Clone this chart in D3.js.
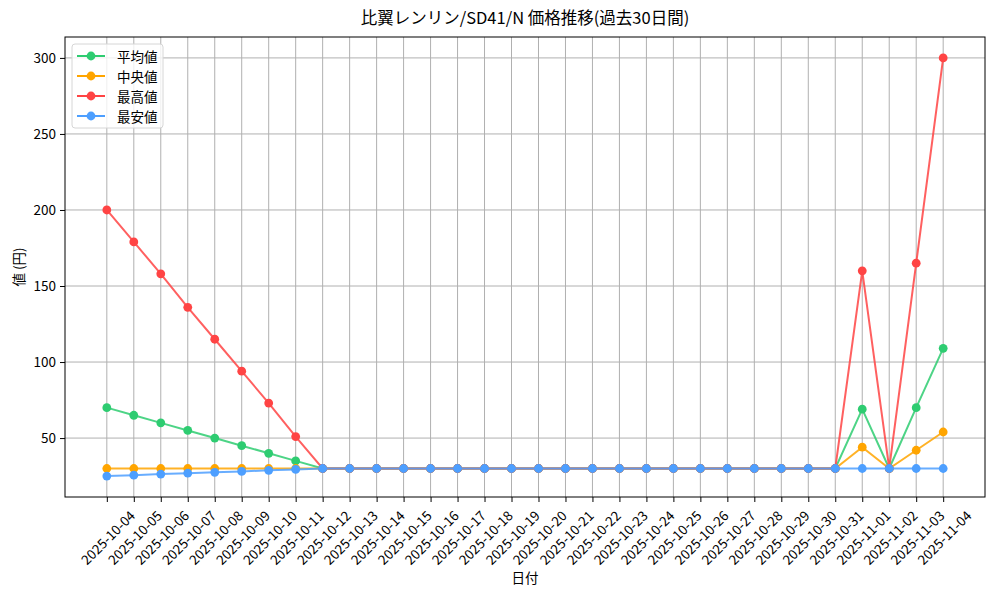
<!DOCTYPE html>
<html>
<head>
<meta charset="utf-8">
<script src="https://cdn.jsdelivr.net/npm/d3@7"></script>
<style>
  body { margin: 0; background: #fff; }
  text { font-family: "Noto Sans CJK JP", "DejaVu Sans", sans-serif; }
</style>
</head>
<body>
<div id="chart"></div>
<script>
// Data
const dates = [
  '2025-10-04', '2025-10-05', '2025-10-06', '2025-10-07', '2025-10-08', '2025-10-09',
  '2025-10-10', '2025-10-11', '2025-10-12', '2025-10-13', '2025-10-14', '2025-10-15',
  '2025-10-16', '2025-10-17', '2025-10-18', '2025-10-19', '2025-10-20', '2025-10-21',
  '2025-10-22', '2025-10-23', '2025-10-24', '2025-10-25', '2025-10-26', '2025-10-27',
  '2025-10-28', '2025-10-29', '2025-10-30', '2025-10-31', '2025-11-01', '2025-11-02',
  '2025-11-03', '2025-11-04'
]
const avgValues = [70, 65, 60, 55, 50, 45, 40, 35, 30, 30, 30, 30, 30, 30, 30, 30,
  30, 30, 30, 30, 30, 30, 30, 30, 30, 30, 30, 30, 69, 30, 70, 109]
const medianValues = [30, 30, 30, 30, 30, 30, 30, 30, 30, 30, 30, 30, 30, 30, 30, 30,
  30, 30, 30, 30, 30, 30, 30, 30, 30, 30, 30, 30, 44, 30, 42, 54]
const maxValues = [200, 179, 158, 136, 115, 94, 73, 51, 30, 30, 30, 30, 30, 30, 30, 30,
  30, 30, 30, 30, 30, 30, 30, 30, 30, 30, 30, 30, 160, 30, 165, 300]
const minValues = [25, 25.6, 26.3, 26.9, 27.5, 28.1, 28.8, 29.4, 30, 30, 30, 30, 30, 30, 30, 30,
  30, 30, 30, 30, 30, 30, 30, 30, 30, 30, 30, 30, 30, 30, 30, 30]
const yTicks = [50, 100, 150, 200, 250, 300]

const series = [
  { name: '平均値', values: avgValues, color: '#2ecc71' },
  { name: '中央値', values: medianValues, color: '#ffa500' },
  { name: '最高値', values: maxValues, color: '#ff4444' },
  { name: '最安値', values: minValues, color: '#4d9fff' }
]

// Canvas
const W = 1000, H = 600
const m = { left: 65, right: 15, top: 37, bottom: 103 }
const w = W - m.left - m.right
const h = H - m.top - m.bottom

const svg = d3.select('#chart').append('svg')
  .attr('width', W)
  .attr('height', H)

// Scales
const xScale = d3.scalePoint().domain(dates).range([0, w]).padding(1.55)
const yScale = d3.scaleLinear().domain([11.25, 313.75]).range([h, 0])

const g = svg.append('g').attr('transform', `translate(${m.left},${m.top})`)

// Grid
g.append('g').selectAll('line')
  .data(dates).enter().append('line')
  .attr('x1', d => xScale(d)).attr('x2', d => xScale(d))
  .attr('y1', 0).attr('y2', h)
  .attr('stroke', '#b0b0b0').attr('stroke-width', 1)
g.append('g').selectAll('line')
  .data(yTicks).enter().append('line')
  .attr('x1', 0).attr('x2', w)
  .attr('y1', d => yScale(d)).attr('y2', d => yScale(d))
  .attr('stroke', '#b0b0b0').attr('stroke-width', 1)

// Axes
const xAxis = d3.axisBottom(xScale).tickSizeOuter(0).tickSize(5).tickPadding(0)
const xAxisCall = g.append('g')
  .attr('transform', `translate(0,${h})`)
  .call(xAxis)
xAxisCall.select('.domain').remove()
xAxisCall.selectAll('line').attr('stroke', '#000').attr('stroke-width', 1)
xAxisCall.selectAll('text')
  .attr('font-size', 13.5)
  .attr('fill', '#000')
  .attr('text-anchor', 'middle')
  .attr('dominant-baseline', 'central')
  .attr('y', 0)
  .attr('dy', null)
  .attr('transform', 'translate(0,40) rotate(-45)')

const yAxis = d3.axisLeft(yScale).tickValues(yTicks).tickSize(5).tickPadding(4)
const yAxisCall = g.append('g').call(yAxis)
yAxisCall.select('.domain').remove()
yAxisCall.selectAll('line').attr('stroke', '#000').attr('stroke-width', 1)
yAxisCall.selectAll('text').attr('font-size', 13.5).attr('fill', '#000')

// Lines and markers
const line = d3.line()
  .x((d, i) => xScale(dates[i]))
  .y(d => yScale(d))

series.forEach(s => {
  g.append('path')
    .datum(s.values)
    .attr('d', line)
    .attr('fill', 'none')
    .attr('stroke', s.color)
    .attr('stroke-width', 2)
    .attr('stroke-opacity', 0.85)
  g.append('g').selectAll('circle')
    .data(s.values).enter()
    .append('circle')
    .attr('cx', (d, i) => xScale(dates[i]))
    .attr('cy', d => yScale(d))
    .attr('r', 4.4)
    .attr('fill', s.color)
})

// Frame
g.append('rect')
  .attr('width', w).attr('height', h)
  .attr('fill', 'none').attr('stroke', '#000').attr('stroke-width', 1)

// Legend
const lg = g.append('g').attr('transform', 'translate(7,7)')
lg.append('rect')
  .attr('width', 91).attr('height', 84)
  .attr('rx', 3)
  .attr('fill', '#fff').attr('fill-opacity', 0.8)
  .attr('stroke', '#d6d6d6')
series.forEach((s, i) => {
  const y = 12 + i * 20
  lg.append('line')
    .attr('x1', 5).attr('x2', 33).attr('y1', y).attr('y2', y)
    .attr('stroke', s.color).attr('stroke-width', 2)
  lg.append('circle').attr('cx', 19).attr('cy', y).attr('r', 4.4).attr('fill', s.color)
  lg.append('text')
    .attr('x', 45).attr('y', y)
    .attr('dominant-baseline', 'central')
    .attr('font-size', 13.5)
    .text(s.name)
})

// Titles
svg.append('text')
  .attr('x', m.left + w / 2).attr('y', 24)
  .attr('text-anchor', 'middle')
  .attr('font-size', 16.5)
  .text('比翼レンリン/SD41/N 価格推移(過去30日間)')
svg.append('text')
  .attr('x', m.left + w / 2).attr('y', 583)
  .attr('text-anchor', 'middle')
  .attr('font-size', 13.5)
  .text('日付')
svg.append('text')
  .attr('transform', `translate(24,${m.top + h / 2}) rotate(-90)`)
  .attr('text-anchor', 'middle')
  .attr('font-size', 13.5)
  .text('値 (円)')
</script>
</body>
</html>
